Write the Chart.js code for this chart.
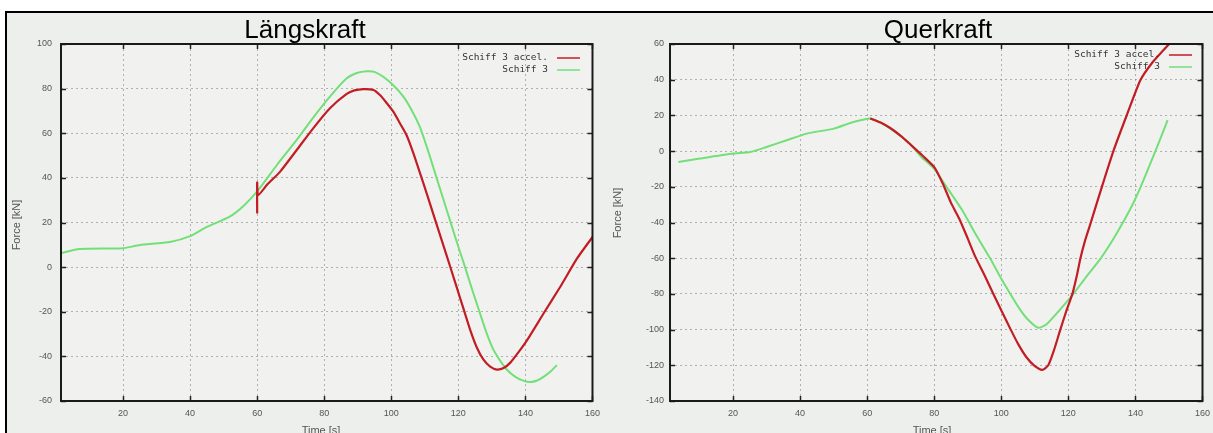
<!DOCTYPE html>
<html>
<head>
<meta charset="utf-8">
<script src="https://cdn.jsdelivr.net/npm/chart.js@4.4.1/dist/chart.umd.min.js"></script>
<style>
  body { margin:0; width:1213px; height:433px; background:#fff; position:relative; overflow:hidden;
         font-family:"Liberation Sans", Arial, sans-serif; }
  #frame { position:absolute; left:5px; top:11px; width:1208px; height:422px; background:#edefec;
           border-top:2px solid #000; border-left:2px solid #000; box-sizing:border-box; }
  canvas { position:absolute; top:0; }
  .title { position:absolute; top:16px; width:240px; text-align:center; font-size:26px; line-height:26px; color:#000; }
</style>
</head>
<body>
<div id="frame"></div>
<canvas id="laengs" width="607" height="433" style="left:0"></canvas>
<canvas id="quer" width="612" height="433" style="left:605px"></canvas>
<div class="title" style="left:185px">Längskraft</div>
<div class="title" style="left:818px">Querkraft</div>

<script>
// --- Längskraft ---------------------------------------------------
const lAccelT = [60, 60, 60.3, 63, 66.8, 71.8, 76.7, 81.7, 86.7, 89, 91.7, 94.7, 96.7, 98.7, 100.7, 102.6, 104.6, 106.6,
  108.6, 110.6, 112.7, 115, 117.5, 119.5, 121.5, 123.5, 125.5, 127.5, 129.5, 131.5, 133.5, 135.5, 138, 140.5, 145.4, 150.4, 155.4, 160];
const lAccelF = [24, 38, 32.3, 37, 42.7, 52.5, 62.2, 71.2, 77.6, 79.2, 79.8, 79.4, 77, 73.4, 69.5, 64.4, 59, 51,
  42, 32.8, 23, 12.2, 0.5, -9, -18.5, -28, -36, -41.5, -44.6, -45.9, -45.2, -42.8, -38, -32.7, -20.8, -8.8, 3.9, 13.5];

const lShipT = [1.5, 7, 20, 25, 34, 40, 45, 51.8, 56, 60.3, 66, 71.8, 76.7, 81.7, 86.7, 89.7, 92.7, 95, 97.6, 100.6, 103.6, 106,
  108.6, 111, 113.3, 115.5, 117.6, 119.8, 122, 124.2, 126.3, 128.3, 130.3, 132.5, 134.5, 137, 139.5, 141.5, 143.5, 145.4, 147.5, 149.4];
const lShipF = [6.3, 8.1, 8.5, 9.9, 11.3, 13.9, 18, 22.6, 27.5, 34.5, 46, 57, 67, 76.4, 84.6, 87, 87.8, 87.5, 85.3, 81.5, 76.4, 70.5,
  62.5, 52, 41, 30.5, 20.5, 10, 0, -10.5, -20, -29, -36.5, -42, -46, -49.2, -51, -51.5, -50.8, -49.2, -46.8, -43.9];

const lXTicks = [20, 40, 60, 80, 100, 120, 140, 160];
const lYTicks = [-60, -40, -20, 0, 20, 40, 60, 80, 100];

// --- Querkraft ----------------------------------------------------
const qAccelT = [60.9, 64, 67, 70, 73, 76.5, 80, 82.5, 85, 87.5, 90, 92.2, 95, 97.6, 100.2, 102.7, 105, 107.5, 110, 112.2,
  114, 115.8, 117.6, 119.5, 121.2, 122.5, 123.6, 125, 126.6, 130, 133.5, 137.5, 141.5, 145, 148.4, 151];
const qAccelF = [18.3, 16, 12.8, 8.5, 3.5, -2.5, -9, -18, -29, -38, -49, -59, -69.5, -79.9, -90, -99.6, -108, -115.5, -120.5, -122.6,
  -120, -111, -100, -89, -80, -70, -60, -50, -40.6, -20, 0.4, 20.5, 39.8, 49.5, 56.6, 62];

const qShipT = [3.7, 10.1, 20.1, 25.1, 30, 36, 42, 50, 55.9, 60.9, 64, 66.9, 70, 72.8, 76, 80, 84, 88.4, 92.5, 96.7, 99.7, 102.7,
  105.5, 108, 111, 113.5, 116, 118.8, 121.5, 125.5, 129.6, 133, 136.1, 139, 141.5, 144, 146.5, 149.6];
const qShipF = [-6.1, -4.2, -1.4, -0.5, 2.3, 6.1, 9.8, 12.6, 16.3, 18.3, 16, 12.6, 8.5, 4.2, -3, -10, -21, -33.3, -47, -60.2, -70.5, -80,
  -88.5, -94.5, -99, -97, -92, -86, -80, -70, -60.2, -50.5, -40.6, -30.5, -20.3, -9, 2.5, 17.3];

const qXTicks = [20, 40, 60, 80, 100, 120, 140, 160];
const qYTicks = [-140, -120, -100, -80, -60, -40, -20, 0, 20, 40, 60];

const seriesNames = ['Schiff 3 accel.', 'Schiff 3'];
const RED = '#c21d24', GREEN = '#72df78';

function pts(t, f) { return t.map((v, i) => ({ x: v, y: f[i] })); }

// gnuplot-artige Rahmen, Ticks, Legende und Achsentitel
const gnuplotLook = {
  id: 'gnuplotLook',
  beforeDraw(chart) {
    const a = chart.chartArea, ctx = chart.ctx;
    ctx.save();
    ctx.fillStyle = '#f1f2f0';
    ctx.fillRect(a.left, a.top, a.right - a.left, a.bottom - a.top);
    ctx.restore();
  },
  afterDraw(chart, args, o) {
    const a = chart.chartArea, ctx = chart.ctx;
    const xs = chart.scales.x, ys = chart.scales.y;
    ctx.save();
    // inner ticks
    ctx.strokeStyle = '#222';
    ctx.lineWidth = 1.5;
    ctx.beginPath();
    xs.ticks.forEach(t => {
      const px = Math.round(xs.getPixelForValue(t.value)) + 0.5;
      ctx.moveTo(px, a.bottom); ctx.lineTo(px, a.bottom - 5);
      ctx.moveTo(px, a.top); ctx.lineTo(px, a.top + 5);
    });
    ys.ticks.forEach(t => {
      const py = Math.round(ys.getPixelForValue(t.value)) + 0.5;
      ctx.moveTo(a.left, py); ctx.lineTo(a.left + 5, py);
      ctx.moveTo(a.right, py); ctx.lineTo(a.right - 5, py);
    });
    ctx.stroke();
    // frame
    ctx.lineWidth = 2;
    ctx.strokeStyle = '#1a1a1a';
    ctx.strokeRect(a.left, a.top, a.right - a.left, a.bottom - a.top);

    // legend (text right-aligned, line sample to the right)
    ctx.font = '9.5px "DejaVu Sans Mono", monospace';
    ctx.textAlign = 'right';
    ctx.textBaseline = 'middle';
    chart.data.datasets.forEach((ds, i) => {
      const y = o.legendY + i * 12;
      ctx.fillStyle = '#333';
      ctx.fillText(ds.label, o.legendX, y);
      ctx.strokeStyle = ds.borderColor;
      ctx.lineWidth = 1.5;
      ctx.beginPath();
      ctx.moveTo(o.legendX + 9, y); ctx.lineTo(o.legendX + 32, y);
      ctx.stroke();
    });

    // axis titles
    ctx.fillStyle = '#555';
    ctx.font = '11px "Liberation Sans", Arial, sans-serif';
    ctx.textAlign = 'center';
    ctx.fillText('Time [s]', o.xLabelX, o.xLabelY);
    ctx.translate(o.yLabelX, o.yLabelY);
    ctx.rotate(-Math.PI / 2);
    ctx.fillText('Force [kN]', 0, 0);
    ctx.restore();
  }
};

function makeChart(id, accel, ship, xMin, yMin, yMax, xTicks, yTicks, yWidth, yPad, rightPad, look) {
  const tickFont = { family: '"Liberation Sans", Arial, sans-serif', size: 9 };
  return new Chart(document.getElementById(id), {
    type: 'line',
    data: {
      datasets: [
        { label: seriesNames[0], data: accel, borderColor: RED, borderWidth: 2.2, pointRadius: 0, tension: 0.2, fill: false },
        { label: seriesNames[1], data: ship, borderColor: GREEN, borderWidth: 2, pointRadius: 0, tension: 0.2, fill: false }
      ]
    },
    options: {
      responsive: false,
      animation: false,
      devicePixelRatio: 1,
      layout: { padding: { left: 0, right: rightPad, top: 44, bottom: 0 } },
      plugins: { legend: { display: false }, tooltip: { enabled: false }, gnuplotLook: look },
      scales: {
        x: {
          type: 'linear', min: xMin, max: 160,
          afterBuildTicks: s => { s.ticks = xTicks.map(v => ({ value: v })); },
          afterFit: s => { s.height = 32; },
          ticks: { font: tickFont, color: '#555', padding: 7, maxRotation: 0, autoSkip: false },
          grid: { color: 'rgba(110,110,110,0.5)', drawTicks: false, lineWidth: 1 },
          border: { display: false, dash: [2, 3] }
        },
        y: {
          type: 'linear', min: yMin, max: yMax,
          afterBuildTicks: s => { s.ticks = yTicks.map(v => ({ value: v })); },
          afterFit: s => { s.width = yWidth; },
          ticks: { font: tickFont, color: '#555', padding: yPad, autoSkip: false },
          grid: { color: 'rgba(110,110,110,0.5)', drawTicks: false, lineWidth: 1 },
          border: { display: false, dash: [2, 3] }
        }
      }
    },
    plugins: [gnuplotLook]
  });
}

makeChart('laengs', pts(lAccelT, lAccelF), pts(lShipT, lShipF), 1.5, -60, 100, lXTicks, lYTicks, 61, 9, 8,
  { legendX: 548, legendY: 58, xLabelX: 321, xLabelY: 431, yLabelX: 17, yLabelY: 225 });
makeChart('quer', pts(qAccelT, qAccelF), pts(qShipT, qShipF), 1.2, -140, 60, qXTicks, qYTicks, 65, 6, 11,
  { legendX: 555, legendY: 55, xLabelX: 327, xLabelY: 431, yLabelX: 13, yLabelY: 213 });
</script>
</body>
</html>
